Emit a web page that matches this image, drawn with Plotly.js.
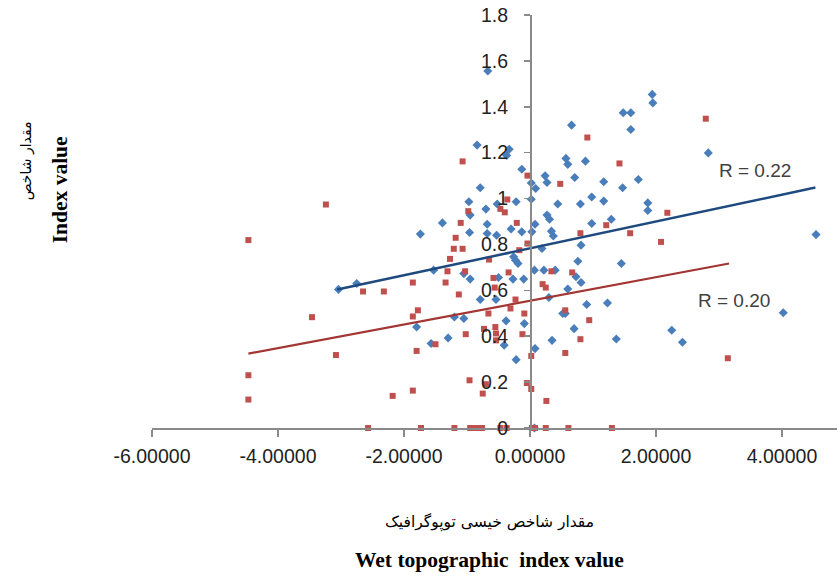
<!DOCTYPE html>
<html>
<head>
<meta charset="utf-8">
<script src="https://cdn.plot.ly/plotly-3.0.1.min.js"></script>
<style>html,body{margin:0;padding:0;background:#fff;}#chart{width:837px;height:577px;}</style>
</head>
<body>
<div id="chart"></div>
<script>
// Series 1 (blue diamonds)
const blueX = [-0.67,0.66,1.48,1.60,1.60,1.94,1.95,-0.84,-0.33,-0.37,0.57,0.60,0.88,2.83,-0.13,0.24,0.27,0.71,0.02,0.09,-0.79,1.17,1.47,1.72,0.98,0.80,1.17,0.44,-0.97,-0.70,-0.22,0.02,-0.52,1.87,1.87,0.27,0.31,0.98,1.29,0.34,0.37,0.81,0.19,0.76,1.45,4.54,4.02,2.25,2.42,0.22,0.40,0.73,0.81,0.60,0.30,0.90,1.23,0.52,0.56,0.70,0.35,1.37,-1.74,-1.39,-0.95,-0.96,-0.68,-0.68,-0.53,-0.30,-0.13,0.03,0.08,-0.26,-0.23,-0.19,-1.05,-0.95,-1.53,-0.50,-0.27,-0.10,0.07,-0.79,-0.54,-1.80,-1.20,-1.05,-0.38,-0.09,-1.57,-1.30,-0.41,0.08,-0.22,0.07,-3.04,-2.75];
const blueY = [1.556,1.32,1.374,1.374,1.301,1.454,1.417,1.233,1.215,1.188,1.175,1.149,1.163,1.199,1.128,1.099,1.07,1.092,1.068,1.044,1.047,1.073,1.047,1.083,1.007,0.976,0.989,0.976,0.986,0.954,0.986,0.997,0.976,0.981,0.948,0.928,0.91,0.891,0.91,0.858,0.837,0.797,0.782,0.727,0.717,0.843,0.502,0.426,0.374,0.688,0.688,0.659,0.634,0.606,0.569,0.538,0.545,0.499,0.499,0.433,0.382,0.388,0.845,0.894,0.928,0.852,0.888,0.848,0.84,0.867,0.855,0.855,0.888,0.746,0.731,0.717,0.673,0.649,0.688,0.656,0.649,0.649,0.688,0.56,0.56,0.44,0.484,0.477,0.467,0.455,0.368,0.392,0.361,0.346,0.298,0.0,0.604,0.63];

// Series 2 (red squares)
const redX = [-3.24,-4.47,-2.65,-2.32,-3.46,-3.08,-4.47,-4.47,-2.18,-2.57,-0.98,-0.36,-0.47,-0.40,-1.10,-0.21,-1.18,-1.21,-1.07,-0.04,-0.17,-1.27,-0.65,-1.31,-1.03,-0.34,-0.58,-1.86,-1.34,-0.56,-1.13,-0.23,-1.78,-1.86,-0.66,-0.31,-0.09,0.20,0.25,0.34,0.67,0.80,1.21,1.59,0.56,0.94,0.80,0.56,0.02,-1.80,-1.50,-1.02,-0.73,-0.55,-0.54,-0.54,-0.12,-0.96,-0.70,-0.75,-0.05,0.02,0.26,-1.86,-1.07,-0.04,0.91,1.42,0.48,2.18,2.08,2.79,3.14,-1.73,-1.20,-0.95,-0.88,-0.82,-0.76,-0.47,-0.37,0.03,0.08,0.25,0.61,1.30];
const redY = [0.974,0.819,0.595,0.595,0.483,0.318,0.23,0.124,0.14,0,0.945,0.996,0.955,0.94,0.894,0.894,0.829,0.781,0.781,0.804,0.775,0.737,0.734,0.683,0.683,0.678,0.654,0.634,0.634,0.612,0.582,0.56,0.513,0.486,0.499,0.521,0.499,0.627,0.612,0.683,0.678,0.849,0.884,0.849,0.513,0.47,0.387,0.327,0.314,0.336,0.365,0.409,0.432,0.44,0.412,0.382,0.409,0.208,0.191,0.15,0.196,0.17,0.118,0.163,1.162,1.10,1.266,1.153,1.064,0.938,0.811,1.348,0.304,0,0,0,0,0,0,0,0,0,0,0,0,0];

// Trend lines
const blueTrendX = [-3.06, 4.53];
const blueTrendY = [0.604, 1.048];
const redTrendX = [-4.47, 3.16];
const redTrendY = [0.324, 0.717];
const blueR = "R = 0.22";
const redR = "R = 0.20";

// Axis ticks
const xTickVals = [-6, -4, -2, 0, 2, 4];
const xTickText = ["-6.00000", "-4.00000", "-2.00000", "0.00000", "2.00000", "4.00000"];
const yTickVals = [0, 0.2, 0.4, 0.6, 0.8, 1, 1.2, 1.4, 1.6, 1.8];
const yTickText = ["0", "0.2", "0.4", "0.6", "0.8", "1", "1.2", "1.4", "1.6", "1.8"];

const xRange = [-6, 4.873];
const yRange = [0, 1.8];
const yAxisPos = (0 - xRange[0]) / (xRange[1] - xRange[0]);

const tickFont = {family: "Liberation Sans, Arial, sans-serif", size: 19.5, color: "#222"};

const traces = [
  {x: blueX, y: blueY, type: "scatter", mode: "markers", cliponaxis: false,
   marker: {symbol: "diamond", size: 7, color: "#4A7EBB"}, showlegend: false},
  {x: redX, y: redY, type: "scatter", mode: "markers", cliponaxis: false,
   marker: {symbol: "square", size: 6, color: "#C0504D"}, showlegend: false},
  {x: blueTrendX, y: blueTrendY, type: "scatter", mode: "lines",
   line: {color: "#1F4A7E", width: 2.5}, showlegend: false},
  {x: redTrendX, y: redTrendY, type: "scatter", mode: "lines",
   line: {color: "#A33533", width: 2.2}, showlegend: false}
];

const layout = {
  width: 837, height: 577,
  margin: {l: 152, r: 0, t: 15, b: 149, pad: 0},
  paper_bgcolor: "#fff", plot_bgcolor: "#fff",
  showlegend: false,
  xaxis: {
    range: xRange, showgrid: false, zeroline: false,
    showline: true, linecolor: "#8a8a8a", linewidth: 1.5,
    ticks: "outside", ticklen: 7, tickcolor: "#8a8a8a", tickwidth: 1.5,
    tickmode: "array", tickvals: xTickVals, ticktext: xTickText,
    tickfont: tickFont, ticklabelstandoff: 3
  },
  yaxis: {
    range: yRange, anchor: "free", position: yAxisPos,
    showgrid: false, zeroline: false,
    showline: true, linecolor: "#8a8a8a", linewidth: 1.5,
    ticks: "outside", ticklen: 6, tickcolor: "#8a8a8a", tickwidth: 1.5,
    tickmode: "array", tickvals: yTickVals, ticktext: yTickText,
    tickfont: tickFont, ticklabelstandoff: 12
  },
  annotations: [
    {x: 2.97, y: 1.123, xref: "x", yref: "y", text: blueR, showarrow: false,
     xanchor: "left", yanchor: "middle", font: {family: "Liberation Sans, Arial, sans-serif", size: 19, color: "#404040"}},
    {x: 2.64, y: 0.557, xref: "x", yref: "y", text: redR, showarrow: false,
     xanchor: "left", yanchor: "middle", font: {family: "Liberation Sans, Arial, sans-serif", size: 19, color: "#404040"}},
    {x: 0.4934, y: -0.228, xref: "paper", yref: "paper", text: "مقدار شاخص خیسی توپوگرافیک", showarrow: false,
     xanchor: "center", yanchor: "middle", font: {family: "DejaVu Sans, sans-serif", size: 15.5, color: "#000"}},
    {x: 0.4934, y: -0.320, xref: "paper", yref: "paper", text: "<b>Wet topographic  index value</b>", showarrow: false,
     xanchor: "center", yanchor: "middle", font: {family: "Liberation Serif, Times New Roman, serif", size: 21.5, color: "#000"}},
    {x: -0.184, y: 0.648, xref: "paper", yref: "paper", text: "مقدار شاخص", showarrow: false, textangle: -90,
     xanchor: "center", yanchor: "middle", font: {family: "DejaVu Sans, sans-serif", size: 14, color: "#000"}},
    {x: -0.134, y: 0.576, xref: "paper", yref: "paper", text: "<b>Index value</b>", showarrow: false, textangle: -90,
     xanchor: "center", yanchor: "middle", font: {family: "Liberation Serif, Times New Roman, serif", size: 21.5, color: "#000"}}
  ]
};

Plotly.newPlot("chart", traces, layout, {displayModeBar: false, staticPlot: true});
</script>
</body>
</html>
